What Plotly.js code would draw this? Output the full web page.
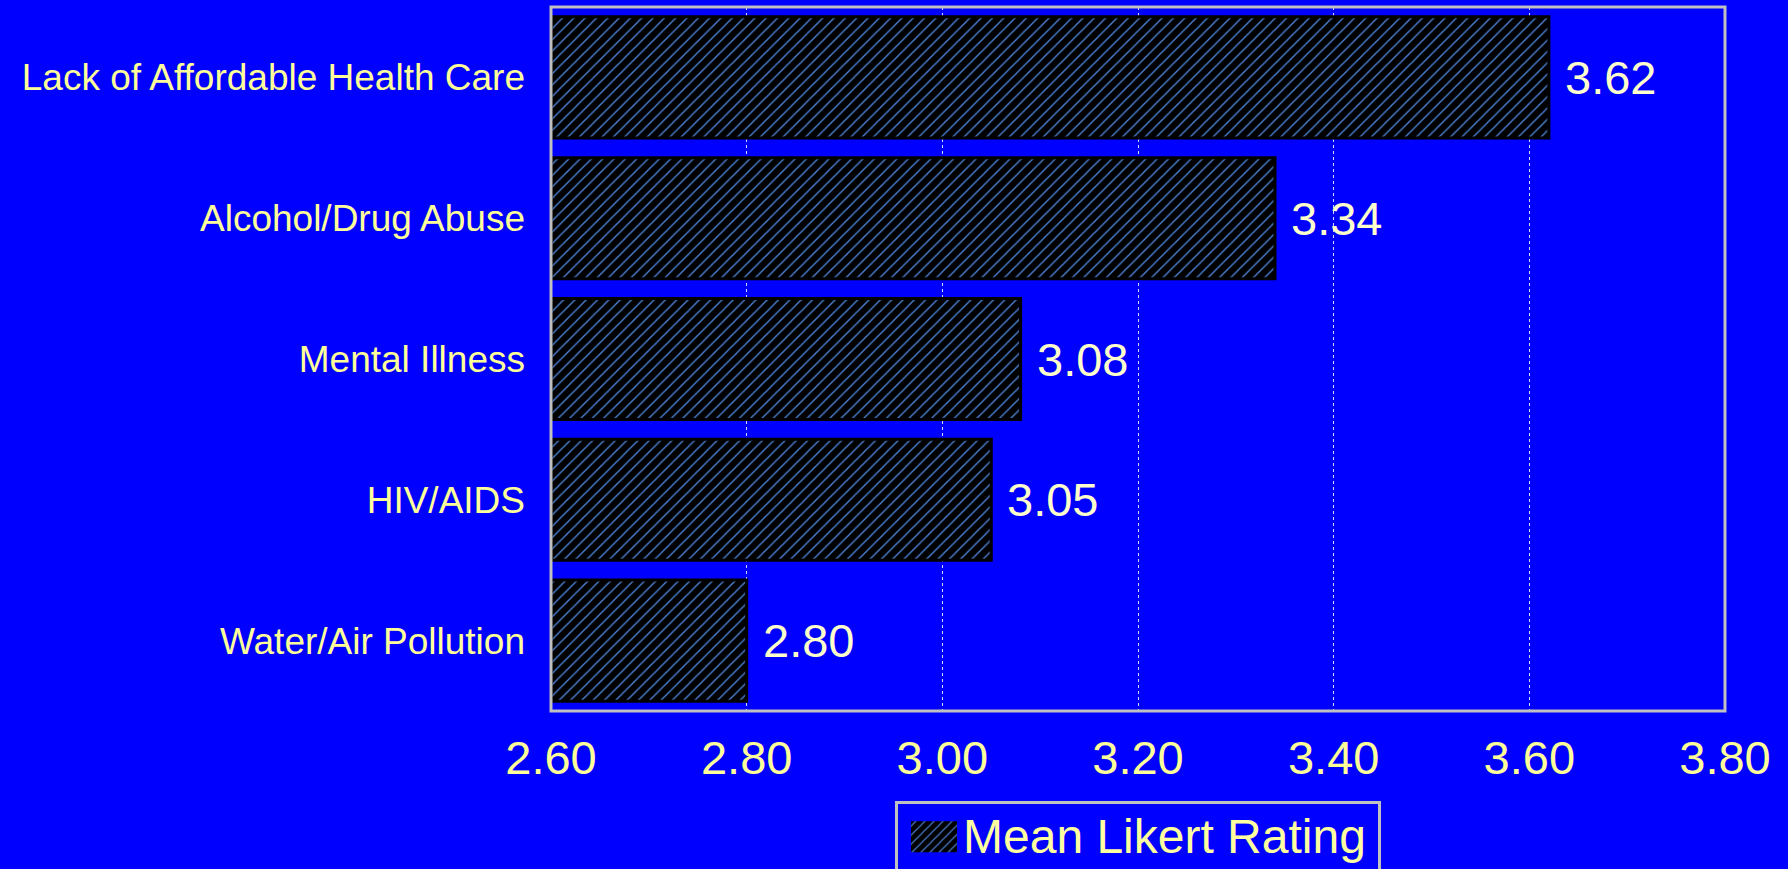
<!DOCTYPE html>
<html>
<head>
<meta charset="utf-8">
<script src="https://cdn.plot.ly/plotly-3.0.1.min.js"></script>
<style>html,body{margin:0;padding:0;background:#0000ff;overflow:hidden}</style>
</head>
<body>
<div id="chart" style="width:1788px;height:869px"></div>
<script>
const categories = ["Lack of Affordable Health Care", "Alcohol/Drug Abuse", "Mental Illness", "HIV/AIDS", "Water/Air Pollution"];
const meanRatings = [3.62, 3.34, 3.08, 3.05, 2.80];
const tickValues = [2.6, 2.8, 3.0, 3.2, 3.4, 3.6, 3.8];
const tickLabels = ["2.60", "2.80", "3.00", "3.20", "3.40", "3.60", "3.80"];
const seriesName = "Mean Likert Rating";
const axisBase = 2.6;

const trace = {
  type: "bar",
  orientation: "h",
  name: seriesName,
  y: categories,
  x: meanRatings.map(v => v - axisBase),
  base: axisBase,
  marker: {
    color: "#000000",
    line: {color: "#000000", width: 3},
    pattern: {shape: "/", bgcolor: "#000000", fgcolor: "#4a7fd0", size: 8, solidity: 0.18}
  },
  showlegend: true,
  hoverinfo: "skip"
};

const annotations = categories.map((c, i) => ({
  x: meanRatings[i], y: c, xref: "x", yref: "y",
  text: meanRatings[i].toFixed(2), showarrow: false,
  xanchor: "left", xshift: 14,
  font: {family: "Liberation Sans, Arial, sans-serif", size: 47, color: "#ffffcc"}
}));

const layout = {
  width: 1788, height: 869,
  paper_bgcolor: "#0000ff", plot_bgcolor: "#0000ff",
  margin: {l: 551, r: 63, t: 7, b: 158, pad: 0, autoexpand: false},
  bargap: 0.14,
  font: {family: "Liberation Sans, Arial, sans-serif", color: "#ffff99"},
  xaxis: {
    range: [2.6, 3.8], tickvals: tickValues, ticktext: tickLabels,
    tickfont: {size: 47, color: "#ffff99"},
    showgrid: true, gridcolor: "rgba(235,235,255,0.9)", gridwidth: 1, griddash: "3px,3px",
    zeroline: false, showline: false,
    ticks: "", ticklabelstandoff: 15, automargin: false, fixedrange: true
  },
  yaxis: {
    autorange: "reversed", type: "category",
    tickfont: {size: 37, color: "#ffff99"},
    showgrid: false, zeroline: false, showline: false,
    ticks: "", ticklabelstandoff: 25, automargin: false, fixedrange: true
  },
  shapes: [{
    type: "rect", xref: "paper", yref: "paper", x0: 0, x1: 1, y0: 0, y1: 1,
    line: {color: "#c0c0c0", width: 3}, fillcolor: "rgba(0,0,0,0)", layer: "above"
  }],
  legend: {
    x: 0.5, xanchor: "center", y: -0.128, yanchor: "top", orientation: "h",
    bgcolor: "#0000ff", bordercolor: "#c0c0c0", borderwidth: 3,
    itemwidth: 55, entrywidth: 410, entrywidthmode: "pixels",
    font: {size: 48, color: "#ffffa0"}
  },
  annotations: annotations,
  showlegend: true
};

Plotly.newPlot("chart", [trace], layout, {staticPlot: true, displayModeBar: false}).then(() => {
  document.querySelectorAll(".legendpoints path").forEach(p => {
    p.setAttribute("d", "M26.5,18.5H-19.5V-12.5H26.5Z");
    p.style.strokeWidth = "0px";
  });
  const tr = document.querySelector(".legend .traces");
  if (tr) {
    const t = tr.getAttribute("transform") || "";
    tr.setAttribute("transform", t + " translate(0,-8)");
  }
});
</script>
</body>
</html>
